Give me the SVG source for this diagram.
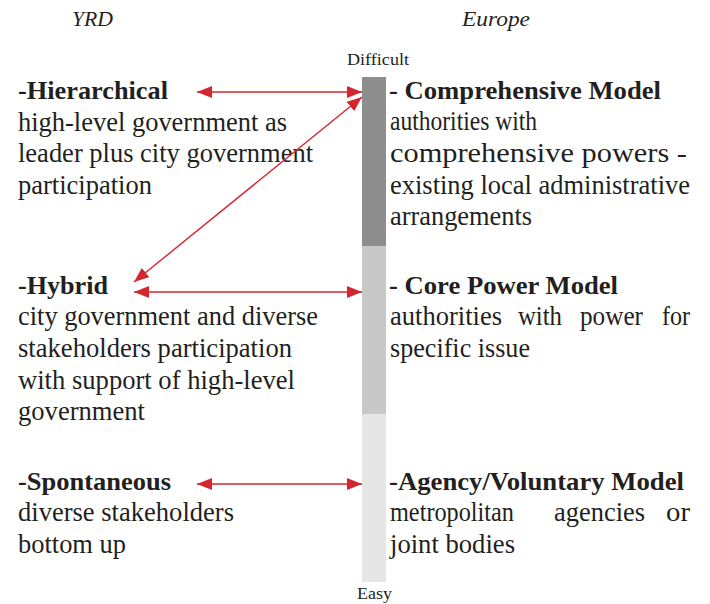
<svg xmlns="http://www.w3.org/2000/svg" width="710" height="604" viewBox="0 0 710 604">
<defs>
<style>
text{font-family:"Liberation Serif","Times New Roman","DejaVu Serif",serif;fill:#231f20;}
.t{font-size:26.5px;font-weight:normal;}
.b{font-size:25px;font-weight:bold;}
.h{font-size:22px;font-style:italic;}
.s{font-size:17px;}
.conn{stroke:#d3262e;stroke-width:1.4;fill:none;marker-start:url(#ah);marker-end:url(#ah);}
</style>
<marker id="ah" viewBox="0 0 15 12" refX="15" refY="6" markerWidth="15" markerHeight="12" markerUnits="userSpaceOnUse" orient="auto-start-reverse">
<path d="M0,0 L15,6 L0,12 z" fill="#d3262e"/>
</marker>
</defs>
<rect width="710" height="604" fill="#ffffff"/>
<g id="headers">
<text class="h" x="72" y="26" textLength="41" lengthAdjust="spacingAndGlyphs">YRD</text>
<text class="h" x="462" y="26" textLength="68" lengthAdjust="spacingAndGlyphs">Europe</text>
</g>
<g id="scale">
<text class="s" x="347" y="65" textLength="62" lengthAdjust="spacingAndGlyphs">Difficult</text>
<rect x="362" y="77" width="24" height="169" fill="#8f8e8f"/>
<rect x="362" y="246" width="24" height="168" fill="#c8c8c8"/>
<rect x="362" y="414" width="24" height="168" fill="#e6e6e6"/>
<text class="s" x="357" y="599" textLength="35" lengthAdjust="spacingAndGlyphs">Easy</text>
</g>
<g id="hierarchical">
<text class="b" x="18" y="99" textLength="150" lengthAdjust="spacingAndGlyphs">-Hierarchical</text>
<text class="t" x="18" y="131" textLength="269" lengthAdjust="spacingAndGlyphs">high-level government as</text>
<text class="t" x="18" y="162" textLength="295" lengthAdjust="spacingAndGlyphs">leader plus city government</text>
<text class="t" x="18" y="194" textLength="134" lengthAdjust="spacingAndGlyphs">participation</text>
</g>
<g id="hybrid">
<text class="b" x="18" y="294" textLength="90" lengthAdjust="spacingAndGlyphs">-Hybrid</text>
<text class="t" x="18" y="325" textLength="300" lengthAdjust="spacingAndGlyphs">city government and diverse</text>
<text class="t" x="18" y="357" textLength="274" lengthAdjust="spacingAndGlyphs">stakeholders participation</text>
<text class="t" x="18" y="389" textLength="277" lengthAdjust="spacingAndGlyphs">with support of high-level</text>
<text class="t" x="18" y="420" textLength="127" lengthAdjust="spacingAndGlyphs">government</text>
</g>
<g id="spontaneous">
<text class="b" x="18" y="490" textLength="153" lengthAdjust="spacingAndGlyphs">-Spontaneous</text>
<text class="t" x="18" y="521" textLength="216" lengthAdjust="spacingAndGlyphs">diverse stakeholders</text>
<text class="t" x="18" y="553" textLength="108" lengthAdjust="spacingAndGlyphs">bottom up</text>
</g>
<g id="comprehensive">
<text class="b" x="389" y="99" textLength="272" lengthAdjust="spacingAndGlyphs">- Comprehensive Model</text>
<text class="t" x="390" y="130" textLength="147" lengthAdjust="spacingAndGlyphs">authorities with</text>
<text class="t" x="390" y="162" textLength="297" lengthAdjust="spacingAndGlyphs">comprehensive powers -</text>
<text class="t" x="390" y="194" textLength="300" lengthAdjust="spacingAndGlyphs">existing local administrative</text>
<text class="t" x="390" y="225" textLength="142" lengthAdjust="spacingAndGlyphs">arrangements</text>
</g>
<g id="corepower">
<text class="b" x="389" y="294" textLength="229" lengthAdjust="spacingAndGlyphs">- Core Power Model</text>
<text class="t" x="390" y="325" textLength="112" lengthAdjust="spacingAndGlyphs">authorities</text>
<text class="t" x="518" y="325" textLength="44" lengthAdjust="spacingAndGlyphs">with</text>
<text class="t" x="580" y="325" textLength="63" lengthAdjust="spacingAndGlyphs">power</text>
<text class="t" x="662" y="325" textLength="28" lengthAdjust="spacingAndGlyphs">for</text>
<text class="t" x="390" y="357" textLength="140" lengthAdjust="spacingAndGlyphs">specific issue</text>
</g>
<g id="agency">
<text class="b" x="389" y="490" textLength="295" lengthAdjust="spacingAndGlyphs">-Agency/Voluntary Model</text>
<text class="t" x="390" y="521" textLength="124" lengthAdjust="spacingAndGlyphs">metropolitan</text>
<text class="t" x="554" y="521" textLength="91" lengthAdjust="spacingAndGlyphs">agencies</text>
<text class="t" x="666" y="521" textLength="24" lengthAdjust="spacingAndGlyphs">or</text>
<text class="t" x="390" y="553" textLength="125" lengthAdjust="spacingAndGlyphs">joint bodies</text>
</g>
<g id="connectors">
<line class="conn" x1="197" y1="92" x2="362" y2="92"/>
<line class="conn" x1="134" y1="282" x2="362" y2="97"/>
<line class="conn" x1="134" y1="292" x2="362" y2="292"/>
<line class="conn" x1="197" y1="484" x2="362" y2="484"/>
</g>
</svg>
